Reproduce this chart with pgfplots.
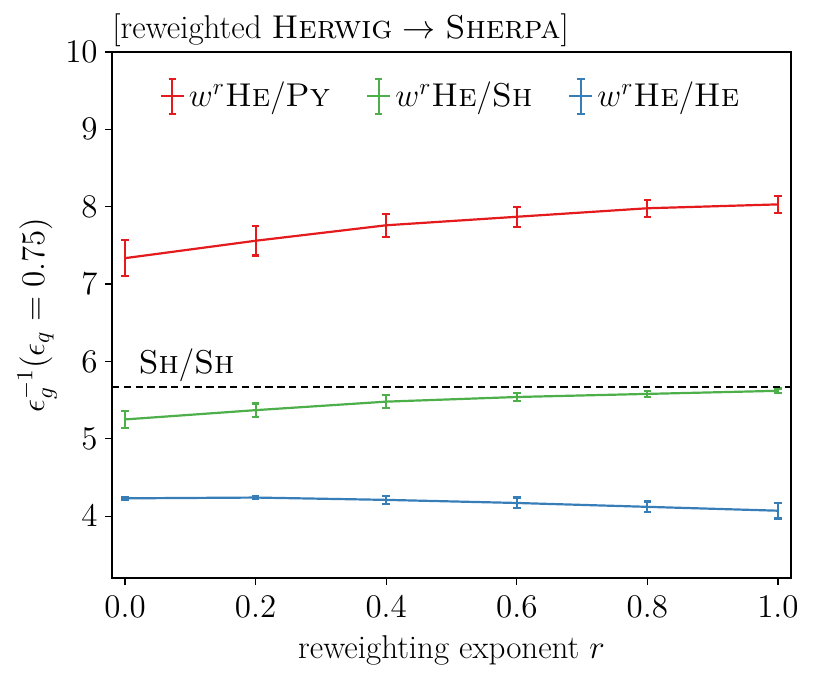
\documentclass[border=0pt]{standalone}
\usepackage{fix-cm}
\usepackage{pgfplots}
\pgfplotsset{compat=1.18}
\definecolor{cred}{HTML}{E41A1C}
\definecolor{cgreen}{HTML}{4DAF4A}
\definecolor{cblue}{HTML}{377EB8}
\pgfplotstableread{
x y e
0.0 7.335 0.23
0.2 7.56 0.19
0.4 7.76 0.15
0.6 7.87 0.13
0.8 7.98 0.11
1.0 8.03 0.11
}\redtab
\pgfplotstableread{
x y e
0.0 5.25 0.11
0.2 5.37 0.087
0.4 5.48 0.085
0.6 5.54 0.055
0.8 5.58 0.035
1.0 5.62 0.03
}\greentab
\pgfplotstableread{
x y e
0.0 4.23 0.015
0.2 4.24 0.02
0.4 4.21 0.05
0.6 4.17 0.07
0.8 4.12 0.07
1.0 4.07 0.10
}\bluetab
\begin{document}
\fontsize{16.5}{19}\selectfont
\begin{tikzpicture}
\begin{axis}[
  scale only axis, width=339.5pt, height=263pt,
  xmin=-0.02, xmax=1.02, ymin=3.2, ymax=10,
  xtick={0,0.2,0.4,0.6,0.8,1.0},
  ytick={4,5,6,7,8,9,10},
  xticklabel style={/pgf/number format/.cd, fixed, fixed zerofill, precision=1},
  yticklabel style={xshift=2pt},
  tick align=outside, tick pos=left, major tick length=3.5pt,
  every tick/.style={black, line width=0.6pt},
  axis line style={line width=0.6pt},
  xlabel={reweighting exponent $r$},
  ylabel={$\epsilon_g^{-1}(\epsilon_q = 0.75)$},
  xlabel style={yshift=2pt},
  ylabel style={yshift=-7pt},
  title={[reweighted \textsc{Herwig} $\rightarrow$ \textsc{Sherpa}]},
  title style={at={(0,1)}, anchor=base west, yshift=1pt, inner xsep=0pt},
  legend style={at={(0.5,0.916)}, anchor=center, draw=none, fill=none,
    legend columns=3, /tikz/every even column/.append style={column sep=16pt},
    font=\fontsize{16.5}{19}\selectfont},
  legend image code/.code={
    \draw[line width=1.1pt] (0pt,0pt) -- (11.5pt,0pt);
    \draw[line width=1.1pt] (5.75pt,-8.75pt) -- (5.75pt,8.75pt);
    \draw[line width=1.1pt] (3.9pt,-8.75pt) -- (7.6pt,-8.75pt);
    \draw[line width=1.1pt] (3.9pt,8.75pt) -- (7.6pt,8.75pt);
  },
  error bars/y dir=both, error bars/y explicit,
  error bars/error bar style={line width=1.1pt},
  error bars/error mark options={rotate=90, mark size=1.9pt, line width=1.1pt},
]
\addplot[cred, line width=1.1pt, mark=none] table[x=x, y=y, y error=e] {\redtab};
\addlegendentry{$w^r$\textsc{He}/\textsc{Py}}
\addplot[cgreen, line width=1.1pt, mark=none] table[x=x, y=y, y error=e] {\greentab};
\addlegendentry{$w^r$\textsc{He}/\textsc{Sh}}
\addplot[cblue, line width=1.1pt, mark=none] table[x=x, y=y, y error=e] {\bluetab};
\addlegendentry{$w^r$\textsc{He}/\textsc{He}}
\addplot[black, line width=1pt, dash pattern=on 3.7pt off 2.2pt, forget plot, error bars/y dir=none] coordinates {(-0.02,5.675) (1.02,5.675)};
\node[anchor=base west, inner sep=0pt] at (axis cs:0.02,5.85) {\textsc{Sh}/\textsc{Sh}};
\end{axis}
\pgfresetboundingbox
\path ([shift={(-56pt,-49.5pt)}]current axis.south west) rectangle ([shift={(12pt,26pt)}]current axis.north east);
\end{tikzpicture}
\end{document}
